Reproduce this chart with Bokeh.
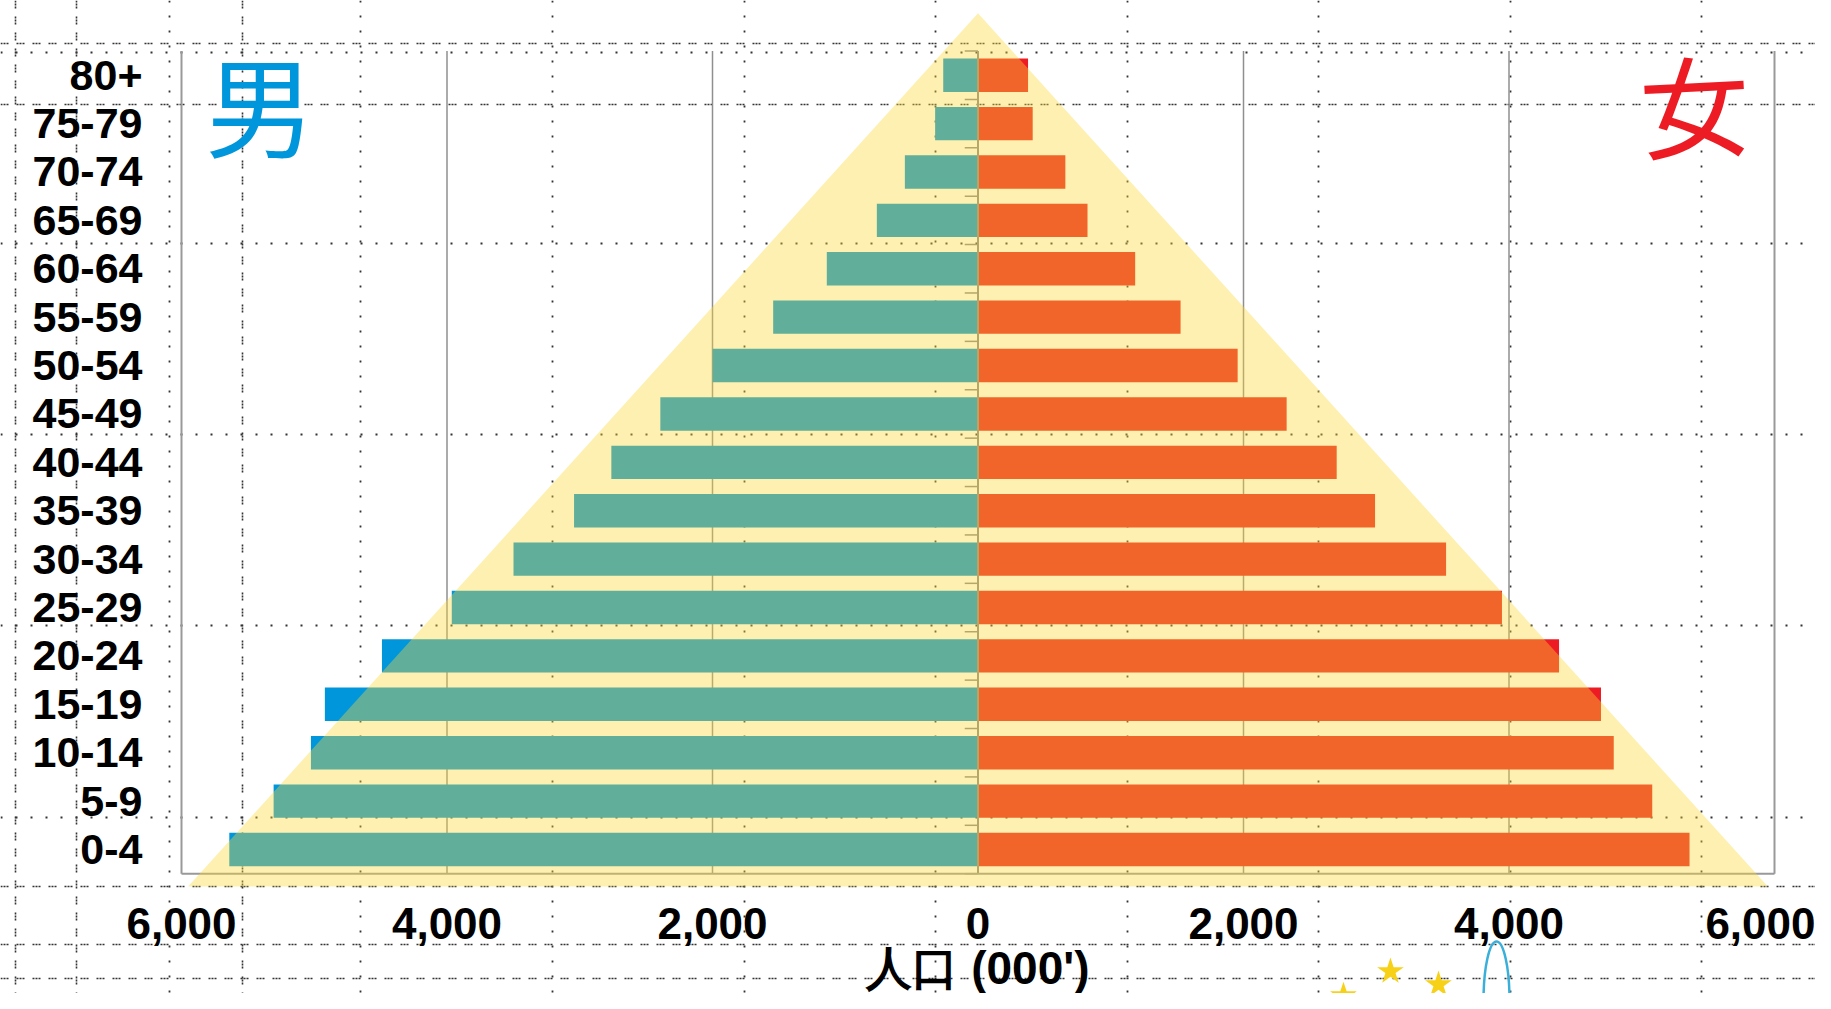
from bokeh.plotting import figure
from bokeh.models import LinearAxis, FixedTicker, Span, Label, Range1d, ColumnDataSource
from bokeh.embed import file_html
from bokeh.resources import INLINE

# ---------------- data ----------------
age_groups = ["0-4", "5-9", "10-14", "15-19", "20-24", "25-29", "30-34", "35-39",
              "40-44", "45-49", "50-54", "55-59", "60-64", "65-69", "70-74", "75-79", "80+"]
male = [5640, 5306, 5025, 4920, 4490, 3964, 3499, 3043, 2762, 2393, 1999, 1543, 1139, 762, 551, 323, 262]
female = [5360, 5079, 4789, 4693, 4377, 3947, 3526, 2991, 2702, 2325, 1956, 1526, 1184, 825, 658, 412, 377]
x_ticks = [-6000, -4000, -2000, 0, 2000, 4000, 6000]
x_tick_labels = ["6,000", "4,000", "2,000", "0", "2,000", "4,000", "6,000"]
grid_ticks = [-4000, -2000, 2000, 4000]

# ---------------- layout ----------------
W, H = 1815, 993
X_MIN, X_MAX = -6000, 6000
FRAME_L, FRAME_R = 181, 1774          # canvas px of X_MIN / X_MAX
ROW0, ROW16 = 849, 74.7               # canvas px of first / last category centre
sx = (FRAME_R - FRAME_L) / (X_MAX - X_MIN)
sy = (ROW0 - ROW16) / 16.0
x_start = X_MIN - FRAME_L / sx
x_end = X_MAX + (W - FRAME_R) / sx
y_start = -(H - ROW0) / sy
y_end = 16 + ROW16 / sy

BLUE = "#0096DB"
RED = "#ED1C24"
YELLOW = "#FAD934"

p = figure(width=W, height=H, output_backend="svg", toolbar_location=None,
           x_range=Range1d(x_start, x_end), y_range=Range1d(y_start, y_end),
           x_axis_type=None, y_axis_type=None, min_border=0,
           background_fill_color="white", border_fill_color="white")
p.outline_line_color = None
p.grid.visible = False

# dotted overlay grid (screen units, drawn under the chart)
dense_h = [43, 104, 886, 944, 978]          # from top
sparse_h = [52, 243, 434, 625, 817]
dense_v = [15, 76, 242]                     # from left
sparse_v = [169, 360, 552, 744, 935, 1127, 1318, 1510, 1701]
for loc in dense_h:
    p.add_layout(Span(location=H - loc, location_units="screen", dimension="width",
                      line_color="#333333", line_width=1.6, line_dash="2 1 2 1 2 8", level="underlay"))
for loc in sparse_h:
    p.add_layout(Span(location=H - loc, location_units="screen", dimension="width",
                      line_color="#333333", line_width=1.8, line_dash="2 13", level="underlay"))
for loc in dense_v:
    p.add_layout(Span(location=loc, location_units="screen", dimension="height",
                      line_color="#333333", line_width=1.6, line_dash="2 1 2 1 2 8", level="underlay"))
for loc in sparse_v:
    p.add_layout(Span(location=loc, location_units="screen", dimension="height",
                      line_color="#333333", line_width=1.8, line_dash="2 13", level="underlay"))

ys = list(range(len(age_groups)))
top = len(age_groups) - 0.5

# vertical grid lines
p.segment(x0=grid_ticks, x1=grid_ticks, y0=[-0.5] * len(grid_ticks), y1=[top] * len(grid_ticks),
          line_color="#8f8f8f", line_width=1.5)

# bars
src = ColumnDataSource(dict(y=ys, male=[-v for v in male], female=female))
p.hbar(y="y", left="male", right=0, height=0.69, source=src, fill_color=BLUE, line_color=None)
p.hbar(y="y", left=0, right="female", height=0.69, source=src, fill_color=RED, line_color=None)

# central axis with ticks
bounds = [b - 0.5 for b in range(len(age_groups) + 1)]
p.segment(x0=[0], x1=[0], y0=[-0.5], y1=[top], line_color="#888888", line_width=2)
p.segment(x0=[-100] * len(bounds), x1=[0] * len(bounds), y0=bounds, y1=bounds,
          line_color="#888888", line_width=1.5)

# frame (left, bottom, right)
p.segment(x0=[X_MIN, X_MIN, X_MAX], x1=[X_MIN, X_MAX, X_MAX],
          y0=[top, -0.5, top], y1=[-0.5, -0.5, -0.5], line_color="#999999", line_width=2)

# translucent pyramid triangle
p.patch(x=[0, -5950, 5950], y=[17.28, -0.765, -0.765], fill_color=YELLOW, fill_alpha=0.39, line_color=None)

# axes
xaxis = LinearAxis(fixed_location=-0.5, bounds=(X_MIN, X_MAX),
                   ticker=FixedTicker(ticks=x_ticks),
                   major_label_overrides={t: l for t, l in zip(x_ticks, x_tick_labels)})
xaxis.axis_line_color = None
xaxis.major_tick_line_color = None
xaxis.minor_tick_line_color = None
xaxis.major_label_standoff = 28
xaxis.major_label_text_font = "Liberation Sans"
xaxis.major_label_text_font_style = "bold"
xaxis.major_label_text_font_size = "44px"
xaxis.major_label_text_color = "black"
xaxis.axis_label = "人口 (000')"
xaxis.axis_label_standoff = 0
xaxis.axis_label_text_font = "Liberation Sans"
xaxis.axis_label_text_font_style = "bold"
xaxis.axis_label_text_font_size = "46px"
xaxis.axis_label_text_color = "black"
p.add_layout(xaxis, "below")

yaxis = LinearAxis(fixed_location=X_MIN, ticker=FixedTicker(ticks=ys),
                   major_label_overrides={i: a for i, a in zip(ys, age_groups)})
yaxis.axis_line_color = None
yaxis.major_tick_line_color = None
yaxis.minor_tick_line_color = None
yaxis.major_label_standoff = 33
yaxis.major_label_text_font = "Liberation Sans"
yaxis.major_label_text_font_style = "bold"
yaxis.major_label_text_font_size = "43px"
yaxis.major_label_text_color = "black"
p.add_layout(yaxis, "left")

# gender labels
p.add_layout(Label(x=-5407, y=15.44, text="男", text_font="Noto Sans CJK JP", text_font_size="110px",
                   text_color=BLUE, text_align="center", text_baseline="middle"))
p.add_layout(Label(x=5397, y=15.46, text="女", text_font="Noto Sans CJK JP", text_font_size="110px",
                   text_color=RED, text_align="center", text_baseline="middle", angle=0.05))

# bottom decorations
p.scatter(x=[2753, 3107, 3469], y=[-3.02, -2.52, -2.79], marker="star", size=28,
          fill_color="#F7D117", line_color=None)
p.ellipse(x=[3906], y=[-3.12], width=26, height=118, width_units="screen", height_units="screen",
          fill_color=None, line_color="#3AAFD9", line_width=2.5)

open("out.html", "w").write(file_html(p, INLINE))
